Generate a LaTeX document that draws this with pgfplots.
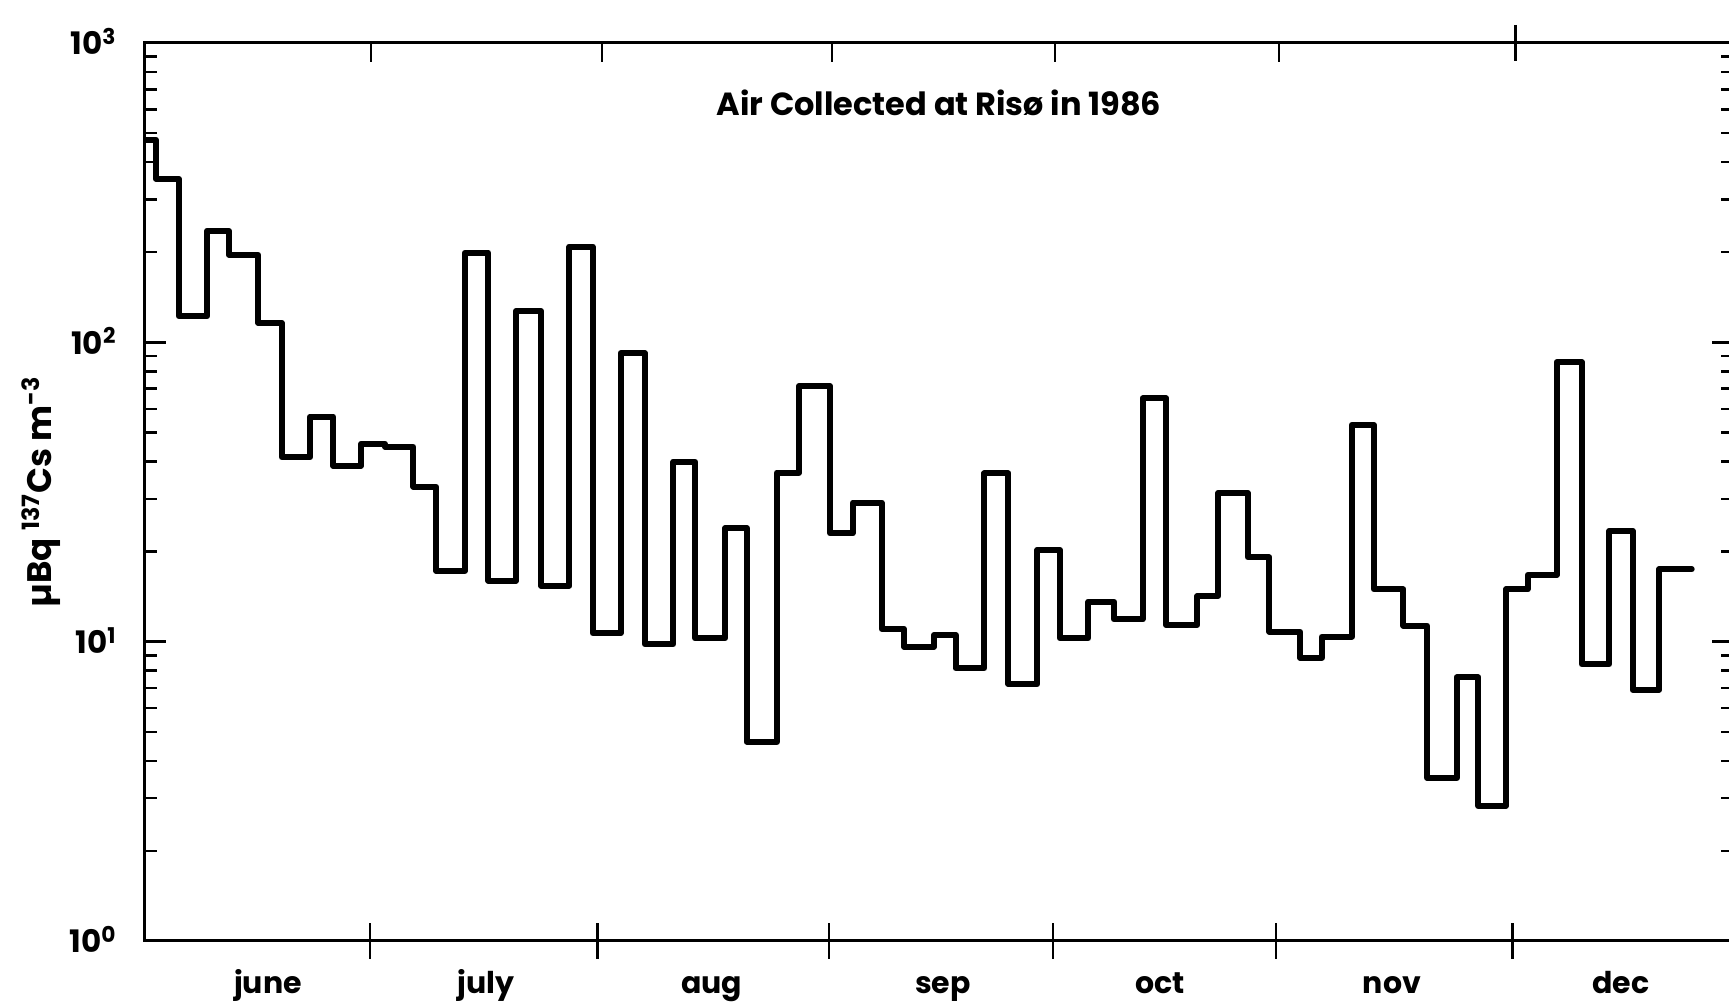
\documentclass[border=0pt]{standalone}
\usepackage{fontspec}
\setmainfont{Poppins}
\usepackage{pgfplots}
\pgfplotsset{compat=1.18}

% Cs-137 activity in air, weekly filters, 1986 (day 0 = 1 June)
\pgfplotstableread{
day     value
0.00    474.6
1.48    351.4
4.56    122.0
8.31    235.6
11.26   195.9
15.19   116.1
18.33   41.3
22.13   56.5
25.25   38.7
28.97   45.8
32.18   44.8
35.98   32.96
39.02   17.27
42.91   199.4
46.04   15.99
49.75   127.3
53.10   15.39
56.90   208.8
60.04   10.67
63.79   91.96
67.05   9.80
70.85   39.94
73.76   10.26
77.78   23.92
80.69   4.63
84.71   36.7
87.70   71.5
91.86   23.02
94.90   29.14
98.79   11.03
101.78  9.62
105.81  10.53
108.69  8.15
112.55  36.5
115.77  7.22
119.66  20.25
122.70  10.26
126.50  13.60
129.94  11.88
133.79  65.05
136.92  11.37
141.11  14.21
143.93  31.4
147.87  19.14
150.77  10.80
154.89  8.84
157.80  10.39
161.82  52.97
164.81  14.96
168.74  11.31
171.96  3.51
175.90  7.60
178.80  2.83
182.51  14.96
185.42  16.71
189.31  85.82
192.66  8.40
196.37  23.44
199.50  6.90
203.03  17.46
207.41  17.46
}\airdata

\begin{document}
\begin{tikzpicture}
% frame, y ticks and the data
\begin{axis}[
  scale only axis, width=794pt, height=449pt,
  xmin=0, xmax=212.95, ymin=1, ymax=1000, ymode=log,
  axis line style={line width=1.5pt},
  every tick/.style={black, line width=1.2pt},
  xtick=\empty,
  ytick={1,10,100,1000},
  yticklabels={10\textsuperscript{0},10\textsuperscript{1},10\textsuperscript{2},10\textsuperscript{3}},
  tick align=inside,
  major tick length=10.5pt, minor tick length=6pt,
  yticklabel style={font=\bfseries\fontsize{15.5}{18}\selectfont, anchor=base east,
    inner sep=0pt, xshift=-14pt, yshift=-6pt},
  ylabel={µBq \textsuperscript{137}Cs m\textsuperscript{-3}},
  ylabel style={font=\bfseries\fontsize{17}{20}\selectfont, at={(rel axis cs:0,0.5)},
    anchor=center, yshift=52pt},
]
\addplot[black, line width=3pt, const plot mark left, line join=round,
  line cap=round] table[x=day, y=value] {\airdata};
\node[anchor=base, font=\bfseries\fontsize{16}{19}\selectfont]
  at (rel axis cs:0.5,0.9187) {Air Collected at Risø in 1986};
\coordinate (SW) at (rel axis cs:0,0);
\end{axis}
% month boundaries and names along the bottom
\begin{axis}[
  scale only axis, width=794pt, height=449pt,
  xmin=0, xmax=212.95, ymin=0, ymax=1,
  hide y axis, axis x line*=bottom,
  axis line style={-, line width=1.5pt},
  every tick/.style={black, line width=1.2pt},
  xtick={16.5,45.7,76.0,107.0,136.1,167.2,197.9},
  xticklabels={june,july,aug,sep,oct,nov,dec},
  major tick length=0pt,
  minor xtick={30.2,60.7,91.7,121.8,151.7,183.4},
  minor tick length=18pt, tick align=center,
  xticklabel style={font=\bfseries\fontsize{15}{18}\selectfont, anchor=base,
    inner sep=0pt, yshift=-26.5pt},
]
\end{axis}
% month boundaries along the top
\begin{axis}[
  scale only axis, width=794pt, height=449pt,
  xmin=0, xmax=212.95, ymin=0, ymax=1,
  hide y axis, axis x line*=top,
  axis line style={-, line width=1.5pt},
  every tick/.style={black, line width=1.2pt},
  xtick={30.3,61.3,92.1,122.0,152.1},
  xticklabels={},
  tick align=inside, major tick length=9.5pt,
  extra x ticks={183.8}, extra x tick labels={},
  extra x tick style={tick align=center, major tick length=18pt},
]
\end{axis}
\pgfresetboundingbox
\path[use as bounding box] ([shift={(-72.5pt,-31.5pt)}]SW) rectangle ++(864.5pt,502pt);
\end{tikzpicture}
\end{document}
